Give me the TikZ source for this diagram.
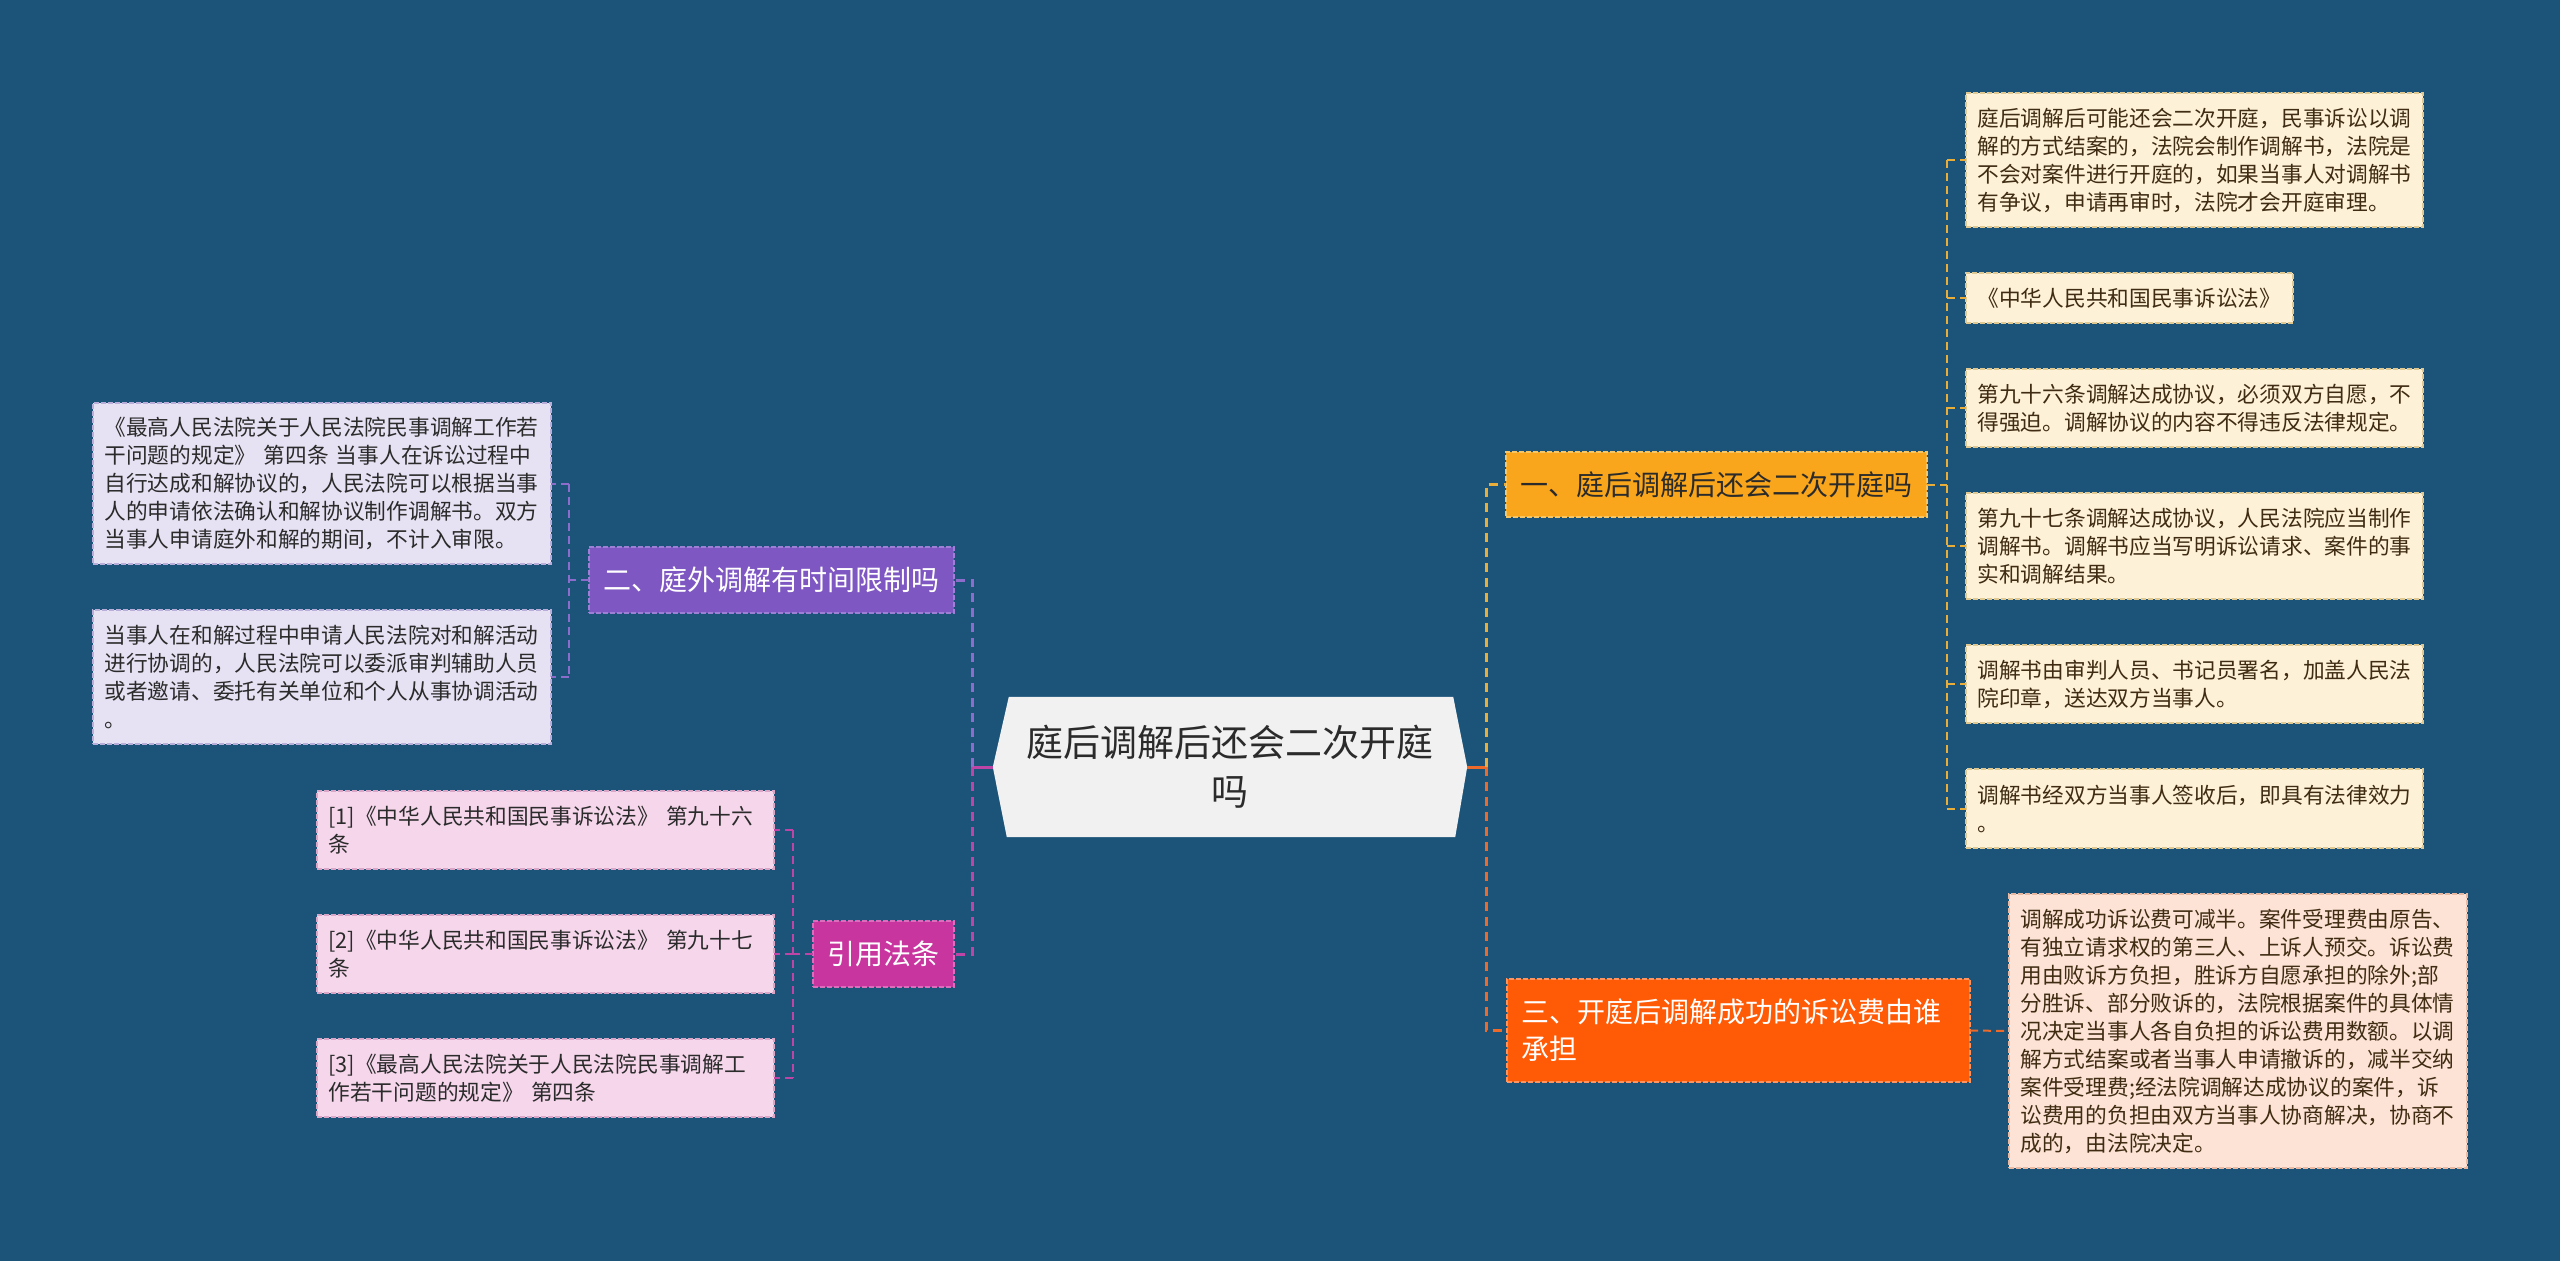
\documentclass[tikz,border=0pt]{standalone}
\usepackage{fontspec}
\setmainfont{Noto Sans CJK SC}
\usepackage{tikz}
\usetikzlibrary{positioning,backgrounds,calc}
\definecolor{bgblue}{HTML}{1C5479}
\definecolor{rootfill}{HTML}{F1F1F1}
\definecolor{darktext}{HTML}{2B2B2B}
\definecolor{browntext}{HTML}{3F2C12}
\definecolor{amberfill}{HTML}{F9A61C}
\definecolor{amberedge}{HTML}{F5C566}
\definecolor{amberline}{HTML}{E9AE3A}
\definecolor{creamfill}{HTML}{FDF1D8}
\definecolor{creamedge}{HTML}{E0C892}
\definecolor{redfill}{HTML}{FF5A05}
\definecolor{rededge}{HTML}{FF9460}
\definecolor{redline}{HTML}{EE6A2A}
\definecolor{peachfill}{HTML}{FDE3D5}
\definecolor{peachedge}{HTML}{E9B9A2}
\definecolor{violetfill}{HTML}{7E57C2}
\definecolor{violetedge}{HTML}{9D80D6}
\definecolor{violetline}{HTML}{8D6DCB}
\definecolor{lavfill}{HTML}{E7E2F3}
\definecolor{lavedge}{HTML}{B9AEDA}
\definecolor{citefill}{HTML}{C8359E}
\definecolor{citeedge}{HTML}{DC6CBC}
\definecolor{citeline}{HTML}{BE45A6}
\definecolor{pinkfill}{HTML}{F5D6EB}
\definecolor{pinkedge}{HTML}{D9A6C8}
\tikzset{
  rootbox/.style={rectangle,minimum width=474pt,minimum height=140pt,align=center,text=darktext,font=\fontsize{37pt}{49pt}\selectfont},
  branchbox/.style={rectangle,anchor=north west,align=left,inner xsep=14pt,outer sep=0pt,line width=1.5pt,dash pattern=on 5pt off 2pt,font=\fontsize{28pt}{37pt}\selectfont},
  leafbox/.style={rectangle,anchor=north west,align=left,inner xsep=11.5pt,inner ysep=4pt,outer sep=0pt,line width=1.5pt,dash pattern=on 5pt off 2pt,font=\fontsize{21.7pt}{28pt}\selectfont},
  creamleaf/.style={leafbox,fill=creamfill,draw=creamedge,text=browntext,text width=434pt},
  peachleaf/.style={leafbox,fill=peachfill,draw=peachedge,text=browntext,text width=435pt},
  lavleaf/.style={leafbox,fill=lavfill,draw=lavedge,text=darktext,text width=435pt},
  pinkleaf/.style={leafbox,fill=pinkfill,draw=pinkedge,text=darktext,text width=434pt},
  trunkline/.style={line width=3pt,dash pattern=on 9pt off 6pt},
  stubline/.style={line width=2pt,dash pattern=on 8pt off 5pt},
  rootstub/.style={line width=3pt}
}
\begin{document}
\begin{tikzpicture}[x=1pt,y=-1pt]
  \useasboundingbox (0,0) rectangle (2560,1261);

  % centre
  \node[rootbox] (root) at (1230,767) {庭后调解后还会二次开庭\\吗};

  % branches
  \node[branchbox,fill=amberfill,draw=amberedge,text=darktext,text width=393pt,minimum height=65pt] (b1) at (1506,452) {一、庭后调解后还会二次开庭吗};
  \node[branchbox,fill=redfill,draw=rededge,text=white,text width=435pt,minimum height=103pt] (b3) at (1507,979) {三、开庭后调解成功的诉讼费由谁\\承担};
  \node[branchbox,fill=violetfill,draw=violetedge,text=white,text width=337pt,minimum height=66pt] (b2) at (589,547) {二、庭外调解有时间限制吗};
  \node[branchbox,fill=citefill,draw=citeedge,text=white,align=center,minimum width=141pt,minimum height=66pt] (b4) at (813,921) {引用法条};

  % right leaves
  \node[creamleaf,minimum height=134pt] (r1) at (1966,93) {庭后调解后可能还会二次开庭，民事诉讼以调\\解的方式结案的，法院会制作调解书，法院是\\不会对案件进行开庭的，如果当事人对调解书\\有争议，申请再审时，法院才会开庭审理。};
  \node[creamleaf,text width=304pt,minimum height=50pt,below=46pt of r1.south west,anchor=north west] (r2) {《中华人民共和国民事诉讼法》};
  \node[creamleaf,minimum height=78pt,below=46pt of r2.south west,anchor=north west] (r3) {第九十六条调解达成协议，必须双方自愿，不\\得强迫。调解协议的内容不得违反法律规定。};
  \node[creamleaf,minimum height=106pt,below=46pt of r3.south west,anchor=north west] (r4) {第九十七条调解达成协议，人民法院应当制作\\调解书。调解书应当写明诉讼请求、案件的事\\实和调解结果。};
  \node[creamleaf,minimum height=78pt,below=46pt of r4.south west,anchor=north west] (r5) {调解书由审判人员、书记员署名，加盖人民法\\院印章，送达双方当事人。};
  \node[creamleaf,minimum height=79pt,below=46pt of r5.south west,anchor=north west] (r6) {调解书经双方当事人签收后，即具有法律效力\\。};
  \node[peachleaf,minimum height=274pt] (r7) at (2009,894) {调解成功诉讼费可减半。案件受理费由原告、\\有独立请求权的第三人、上诉人预交。诉讼费\\用由败诉方负担，胜诉方自愿承担的除外;部\\分胜诉、部分败诉的，法院根据案件的具体情\\况决定当事人各自负担的诉讼费用数额。以调\\解方式结案或者当事人申请撤诉的，减半交纳\\案件受理费;经法院调解达成协议的案件，诉\\讼费用的负担由双方当事人协商解决，协商不\\成的，由法院决定。};

  % left leaves
  \node[lavleaf,minimum height=161pt] (l1) at (93,403) {《最高人民法院关于人民法院民事调解工作若\\干问题的规定》 第四条 当事人在诉讼过程中\\自行达成和解协议的，人民法院可以根据当事\\人的申请依法确认和解协议制作调解书。双方\\当事人申请庭外和解的期间，不计入审限。};
  \node[lavleaf,minimum height=134pt,below=46pt of l1.south west,anchor=north west] (l2) {当事人在和解过程中申请人民法院对和解活动\\进行协调的，人民法院可以委派审判辅助人员\\或者邀请、委托有关单位和个人从事协调活动\\。};
  \node[pinkleaf,minimum height=78pt] (l3) at (317,791) {[1]《中华人民共和国民事诉讼法》 第九十六\\条};
  \node[pinkleaf,minimum height=78pt,below=46pt of l3.south west,anchor=north west] (l4) {[2]《中华人民共和国民事诉讼法》 第九十七\\条};
  \node[pinkleaf,minimum height=78pt,below=46pt of l4.south west,anchor=north west] (l5) {[3]《最高人民法院关于人民法院民事调解工\\作若干问题的规定》 第四条};

  \begin{pgfonlayer}{background}
    \fill[bgblue] (0,0) rectangle (2560,1261);
    \fill[rootfill] (root.west) -- ($(root.north west)+(16,0)$) -- ($(root.north east)+(-14,0)$)
      -- (root.east) -- ($(root.south east)+(-12,0)$) -- ($(root.south west)+(14,0)$) -- cycle;
  \end{pgfonlayer}

  % right connectors
  \coordinate (rt) at ($(root.east)+(19,0)$);
  \draw[rootstub,redline] (root.east) -- (rt);
  \draw[trunkline,amberline] (rt) -- (rt |- b1.west) -- (b1.west);
  \draw[trunkline,redline] (rt) -- (rt |- b3.west) -- (b3.west);
  \coordinate (t1) at ($(b1.east)+(20,0)$);
  \draw[stubline,amberline] (b1.east) -- (t1);
  \draw[stubline,amberline] (t1 |- r1.west) -- (t1 |- r6.west);
  \foreach \n in {r1,r2,r3,r4,r5,r6}
    \draw[stubline,amberline] (t1 |- \n.west) -- (\n.west);
  \draw[stubline,redline] (b3.east) -- (r7.west);

  % left connectors
  \coordinate (lt) at ($(root.west)+(-20,0)$);
  \draw[rootstub,citeline] (root.west) -- (lt);
  \draw[trunkline,violetline] (lt) -- (lt |- b2.east) -- (b2.east);
  \draw[trunkline,citeline] (lt) -- (lt |- b4.east) -- (b4.east);
  \coordinate (t2) at ($(b2.west)+(-20,0)$);
  \draw[stubline,violetline] (b2.west) -- (t2);
  \draw[stubline,violetline] (t2 |- l1.east) -- (t2 |- l2.east);
  \foreach \n in {l1,l2}
    \draw[stubline,violetline] (t2 |- \n.east) -- (\n.east);
  \coordinate (t4) at ($(b4.west)+(-20,0)$);
  \draw[stubline,citeline] (b4.west) -- (t4);
  \draw[stubline,citeline] (t4 |- l3.east) -- (t4 |- l5.east);
  \foreach \n in {l3,l4,l5}
    \draw[stubline,citeline] (t4 |- \n.east) -- (\n.east);
\end{tikzpicture}
\end{document}
